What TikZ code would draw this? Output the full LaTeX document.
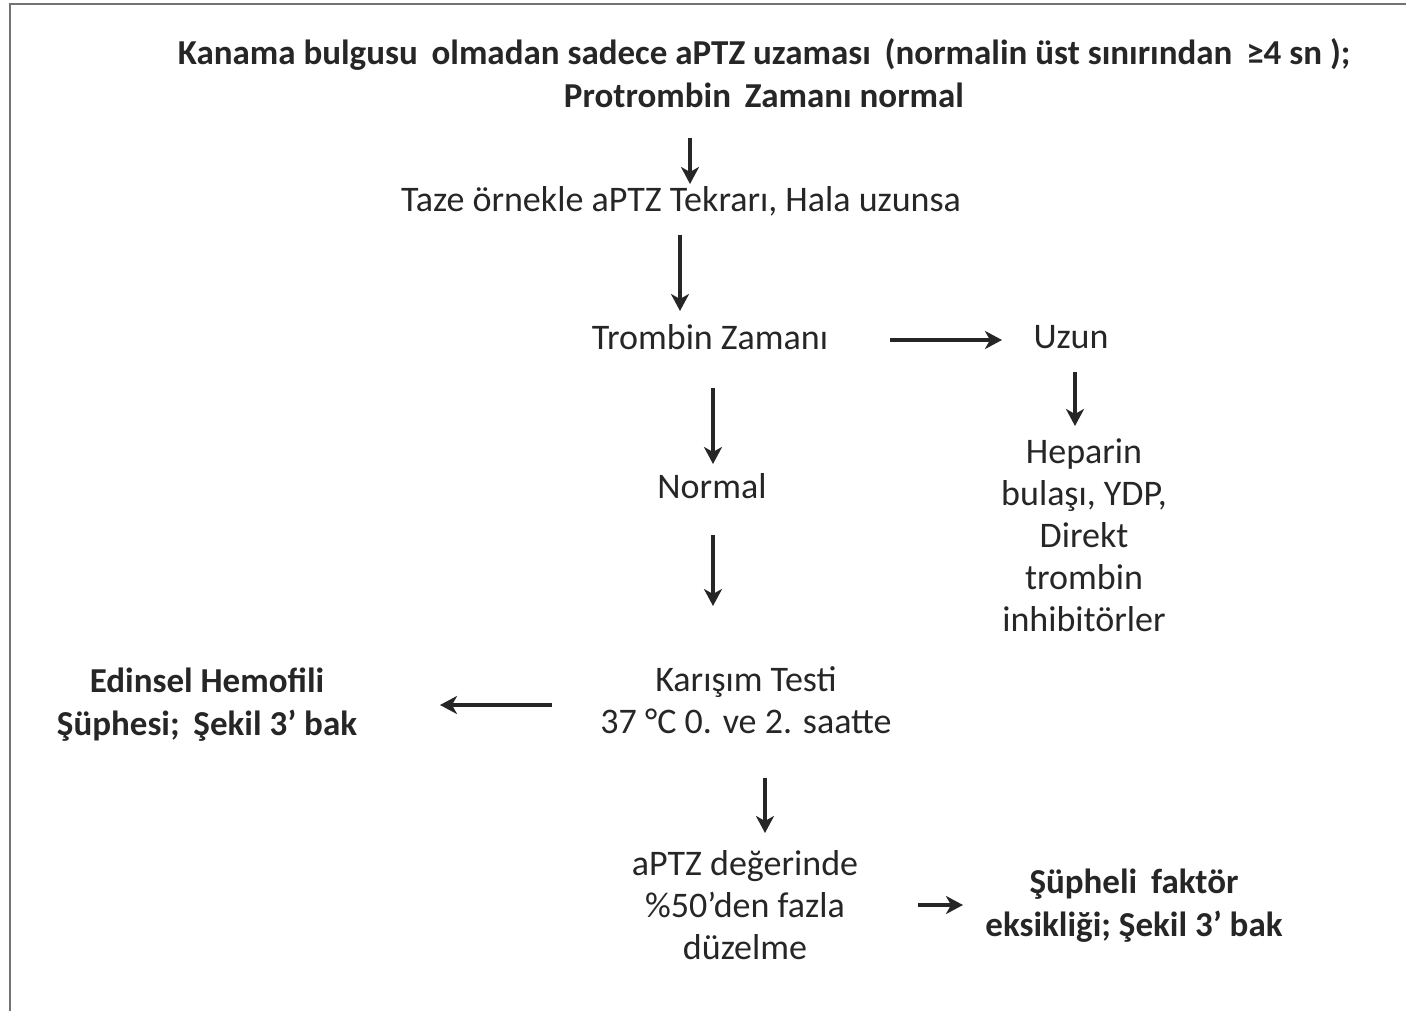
\documentclass[tikz,border=0pt]{standalone}
\usepackage{fontspec}
\setmainfont{Carlito}
\usetikzlibrary{arrows.meta}
\definecolor{ink}{HTML}{262626}
\begin{document}
\begin{tikzpicture}[x=1pt,y=-1pt,
  txt/.style={inner sep=0pt,align=center,text=ink,font=\fontsize{36}{42}\selectfont},
  btxt/.style={txt,font=\fontsize{35}{43}\selectfont\bfseries},
  arr/.style={draw=ink,line width=3.2pt,-{Stealth[length=17pt,width=18pt,inset=5pt]}}]
\useasboundingbox (0,0) rectangle (1406,1011);
% frame edges
\draw[black!55,line width=2.5pt] (10,1011) -- (10,4) -- (1406,4);

% text nodes
\node[btxt] (title) at (764,73) {Kanama bulgusu \,olmadan sadece aPTZ uzaması \,(normalin üst sınırından \,≥4 sn );\\Protrombin \,Zamanı normal};
\node[txt] (taze) at (681,201) {Taze örnekle aPTZ Tekrarı, Hala uzunsa};
\node[txt] (tz) at (710,337) {Trombin Zamanı};
\node[txt] (uzun) at (1071,337) {Uzun};
\node[txt] (hep) at (1084,535) {Heparin\\bulaşı, YDP,\\Direkt\\trombin\\inhibitörler};
\node[txt] (normal) at (712,486) {Normal};
\node[txt] (kar) at (746,700) {Karışım Testi\\37 °C 0. ve 2. saatte};
\node[btxt] (edin) at (207,705) {Edinsel Hemofili\\Şüphesi; \,Şekil 3’ bak};
\node[txt] (apt) at (745,905) {aPTZ değerinde\\\%50’den fazla\\düzelme};
\node[btxt] (sup) at (1134,906) {Şüpheli \,faktör\\eksikliği; Şekil 3’ bak};

% arrow end points
\coordinate (a1s) at (690,138);  \coordinate (a1e) at (690,184);
\coordinate (a2s) at (680,235);  \coordinate (a2e) at (680,311);
\coordinate (a3s) at (890,340);  \coordinate (a3e) at (1002,340);
\coordinate (a4s) at (1075,372); \coordinate (a4e) at (1075,426);
\coordinate (a5s) at (713,388);  \coordinate (a5e) at (713,464);
\coordinate (a6s) at (713,535);  \coordinate (a6e) at (713,606);
\coordinate (a7s) at (552,705);  \coordinate (a7e) at (440,705);
\coordinate (a8s) at (765,778);  \coordinate (a8e) at (765,833);
\coordinate (a9s) at (918,905);  \coordinate (a9e) at (963,905);

\draw[arr] (a1s) -- (a1e);
\draw[arr] (a2s) -- (a2e);
\draw[arr] (a3s) -- (a3e);
\draw[arr] (a4s) -- (a4e);
\draw[arr] (a5s) -- (a5e);
\draw[arr] (a6s) -- (a6e);
\draw[arr] (a7s) -- (a7e);
\draw[arr] (a8s) -- (a8e);
\draw[arr] (a9s) -- (a9e);
\end{tikzpicture}
\end{document}
